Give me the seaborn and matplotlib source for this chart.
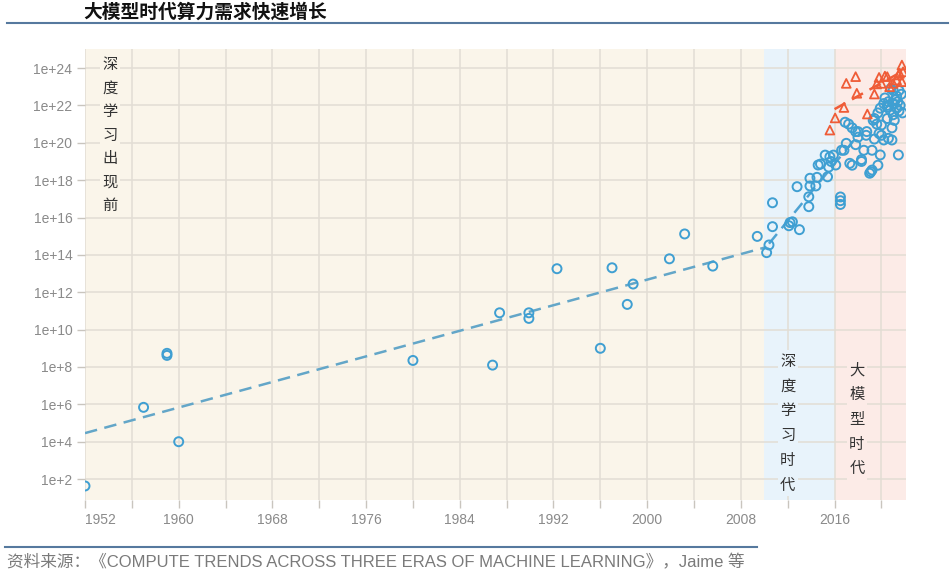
import numpy as np
import pandas as pd
import matplotlib
matplotlib.use("Agg")
import matplotlib.pyplot as plt
import seaborn as sns

# ---- data (year, log10 of training FLOPs) ----
pre_years = [1952.0, 1957.0, 1959.0, 1959.0, 1960.0, 1980.0, 1986.8, 1987.4,
             1989.9, 1989.9, 1992.3, 1996.0, 1997.0, 1998.3, 1998.8, 2001.9,
             2003.2, 2005.6, 2009.4]
pre_logs = [1.63, 5.84, 8.73, 8.62, 4.0, 8.35, 8.10, 10.9,
            10.9, 10.6, 13.26, 9.0, 13.31, 11.35, 12.44, 13.79,
            15.12, 13.4, 14.99]

dl_years = [2010.4, 2010.2, 2010.7, 2010.7, 2012.1, 2012.4, 2013.0, 2012.2,
            2012.8, 2013.8, 2013.8, 2013.9, 2014.4, 2013.9, 2014.5, 2015.4,
            2014.6, 2014.8, 2015.2, 2015.6, 2015.9, 2016.1, 2015.5, 2015.7]
dl_logs = [14.53, 14.12, 15.51, 16.79, 15.56, 15.77, 15.35, 15.73,
           17.65, 16.58, 17.11, 17.69, 17.69, 18.1, 18.15, 18.18,
           18.81, 18.86, 19.34, 19.25, 19.34, 18.81, 18.7, 19.0]

ls_years = [2016.5, 2016.5, 2016.5, 2021.45, 2019.0, 2019.1, 2019.2, 2019.7,
            2017.5, 2016.8, 2017.0, 2017.8, 2018.5, 2018.3, 2019.2, 2018.0,
            2018.7, 2017.5, 2017.8, 2016.9, 2017.2, 2019.3, 2019.6, 2020.0,
            2020.0, 2020.2, 2020.6, 2020.9, 2019.9, 2020.2, 2020.5, 2020.75,
            2021.0, 2021.1, 2021.3, 2021.5, 2021.3, 2021.5, 2021.0, 2021.4,
            2020.5, 2020.9, 2019.7, 2019.4, 2020.5, 2020.6, 2021.6, 2017.3,
            2018.3, 2019.9, 2016.6, 2018.0, 2018.75, 2019.4, 2019.8,
            2020.3, 2021.2, 2021.7, 2020.8, 2021.8, 2021.0]
ls_logs = [17.1, 16.9, 16.7, 19.35, 18.37, 18.45, 18.54, 18.8,
           18.8, 19.6, 19.97, 19.9, 19.6, 19.1, 19.6, 20.3,
           20.4, 20.8, 20.6, 21.1, 21.0, 21.2, 21.0, 20.95,
           20.4, 20.15, 20.24, 20.15, 21.85, 22.1, 21.9, 21.75,
           21.5, 21.2, 21.85, 21.7, 22.5, 22.8, 22.8, 22.2,
           21.3, 20.8, 21.6, 21.3, 22.0, 22.2, 22.0, 18.9,
           19.0, 19.35, 19.6, 20.6, 20.6, 20.2, 20.5,
           22.4, 22.3, 22.6, 22.9, 21.6, 22.1]

big_years = [2015.6, 2016.05, 2016.8, 2017.0, 2017.8, 2017.9, 2018.8, 2019.4,
             2019.6, 2019.8, 2020.0, 2020.3, 2020.7, 2021.0, 2021.3, 2021.45,
             2021.55, 2021.75, 2021.75, 2021.85, 2020.5]
big_logs = [20.68, 21.33, 21.89, 23.18, 23.54, 22.65, 21.54, 22.61,
            23.15, 23.5, 23.18, 23.57, 23.0, 23.18, 23.36, 23.63,
            23.72, 24.16, 23.27, 23.8, 23.54]

# trend lines (endpoints)
pre_trend_years = [1952.0, 2010.2]
pre_trend_logs = [4.46, 14.42]
dl_trend_years = [2010.4, 2017.6]
dl_trend_logs = [14.6, 20.1]
big_trend_years = [2016.0, 2022.0]
big_trend_logs = [21.8, 23.9]

era_edges = [1952.0, 2010.0, 2016.0, 2022.1]
era_colors = ["#faf5ea", "#e8f3fb", "#fcebe7"]

title = "大模型时代算力需求快速增长"
source = "资料来源：《COMPUTE TRENDS ACROSS THREE ERAS OF MACHINE LEARNING》，Jaime 等"

CJK = ["Noto Sans CJK SC", "DejaVu Sans"]
plt.rcParams["font.family"] = ["Liberation Sans", "Noto Sans CJK SC", "DejaVu Sans"]

blue = "#3f9fd2"
red = "#ef5c37"

fig = plt.figure(figsize=(9.53, 5.87), dpi=100)
ax = fig.add_axes([85 / 953, 1 - 500 / 587, (906 - 85) / 953, (500 - 49) / 587])

for i, c in enumerate(era_colors):
    ax.axvspan(era_edges[i], era_edges[i + 1], color=c, lw=0, zorder=0)

pts = pd.DataFrame({
    "year": pre_years + dl_years + ls_years,
    "flops": np.power(10.0, pre_logs + dl_logs + ls_logs),
})
tri = pd.DataFrame({"year": big_years, "flops": np.power(10.0, big_logs)})

sns.lineplot(x=pre_trend_years, y=np.power(10.0, pre_trend_logs), ax=ax,
             color="#63a6c8", lw=1.8, zorder=3).lines[-1].set_dashes([5, 3])
sns.lineplot(x=dl_trend_years, y=np.power(10.0, dl_trend_logs), ax=ax,
             color="#4fa3d3", lw=1.8, zorder=3).lines[-1].set_dashes([5, 3])
sns.lineplot(x=big_trend_years, y=np.power(10.0, big_trend_logs), ax=ax,
             color=red, lw=1.8, zorder=3).lines[-1].set_dashes([5, 3])

sns.scatterplot(data=pts, x="year", y="flops", ax=ax, marker="o", s=42,
                facecolor="none", edgecolor=blue, linewidth=1.4, zorder=4)
sns.scatterplot(data=tri, x="year", y="flops", ax=ax, marker="^", s=40,
                facecolor="none", edgecolor=red, linewidth=1.3, zorder=5)

ax.set_yscale("log")
ax.set_xlim(1952, 2022.1)
ax.set_ylim(10 ** 0.88, 10 ** 25.02)

yt = np.arange(2, 25, 2)
ax.set_yticks(10.0 ** yt)
ax.set_yticklabels([f"1e+{k}" for k in yt])
ax.yaxis.set_minor_locator(matplotlib.ticker.NullLocator())
ax.set_xticks(np.arange(1952, 2017, 8))
ax.set_xticklabels([str(y) for y in range(1952, 2017, 8)])
ax.set_xticks(np.arange(1956, 2021, 8), minor=True)
ax.xaxis.get_majorticklabels()[0].set_horizontalalignment("left")

ax.grid(True, which="both", color="#e2ddd4", lw=1.1, zorder=0.5)
ax.set_axisbelow(True)
ax.tick_params(axis="both", which="both", colors="#c9c5be", length=6, width=1,
               labelcolor="#8a8a8a", labelsize=10)
ax.tick_params(axis="x", pad=3)
ax.tick_params(axis="y", pad=3)
for s in ax.spines.values():
    s.set_visible(False)
ax.set_xlabel("")
ax.set_ylabel("")

box = dict(boxstyle="square,pad=0.15", lw=0)
ax.text(1954.1, 10 ** 20.4, "\n".join("深度学习出现前"), family=CJK, fontsize=11,
        ha="center", va="center", linespacing=1.5, color="#333333", zorder=2,
        bbox=dict(box, fc=era_colors[0]))
ax.text(2012.0, 10 ** 5.0, "\n".join("深度学习时代"), family=CJK, fontsize=11,
        ha="center", va="center", linespacing=1.6, color="#333333", zorder=2,
        bbox=dict(box, fc=era_colors[1]))
ax.text(2017.9, 10 ** 5.2, "\n".join("大模型时代"), family=CJK, fontsize=11,
        ha="center", va="center", linespacing=1.6, color="#333333", zorder=2,
        bbox=dict(box, fc=era_colors[2]))

# header / footer
fig.text(83 / 953, 1 - 12 / 587, title, family=CJK, fontsize=13.5, fontweight="bold",
         ha="left", va="center", color="#111111")
fig.add_artist(plt.Line2D([7 / 953, 948 / 953], [1 - 23 / 587] * 2,
                          color="#56799e", lw=1.5))
fig.add_artist(plt.Line2D([5 / 953, 757 / 953], [1 - 547 / 587] * 2,
                          color="#56799e", lw=1.5))
fig.text(7 / 953, 1 - 562 / 587, source, fontsize=12, ha="left", va="center",
         color="#7a7a7a")

fig.savefig("out.png", dpi=100)
